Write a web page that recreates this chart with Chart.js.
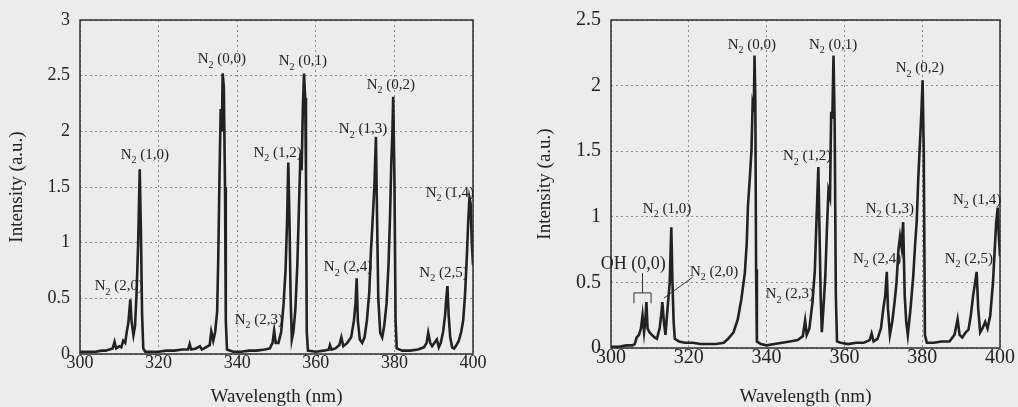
<!DOCTYPE html>
<html>
<head>
<meta charset="utf-8">
<script src="https://cdn.jsdelivr.net/npm/chart.js@4/dist/chart.umd.min.js"></script>
<style>
  html, body { margin:0; padding:0; background:#ececec; }
  #wrapEsq { position:absolute; left:0; top:0; width:500px; height:407px; }
  #wrapDir { position:absolute; left:510px; top:0; width:508px; height:407px; }
</style>
</head>
<body>
<div id="wrapEsq"><canvas id="graficoEsq"></canvas></div>
<div id="wrapDir"><canvas id="graficoDir"></canvas></div>
<script>
// espectro da esquerda
const esqComprimento = [
  300,302,304,305.5,306.5,307.5,308.3,308.8,309.2,310,310.5,311,311.5,311.9,312.3,312.8,313.1,313.6,314,314.4,
  314.8,315.2,315.5,315.8,316.1,316.6,318,320,322,324,326,327.5,327.9,328.3,329.5,330.5,331,332,333,333.4,
  333.9,334.4,334.9,335.2,335.5,335.8,336.1,336.3,336.6,336.9,337.1,337.4,339,341,343,345,347,348.3,349,349.4,
  349.8,350.5,351.2,351.8,352.3,352.7,353,353.3,353.6,353.9,354.3,354.8,355.3,355.7,356.1,356.4,356.7,357,357.3,357.5,
  357.7,358,360,362,363.3,363.6,364,365,366,366.5,367,368,369,369.7,370.1,370.4,370.7,371.2,371.8,372.4,
  373,373.6,374,374.5,374.9,375.3,375.6,375.9,376.4,376.9,377.4,378,378.5,378.9,379.2,379.5,379.7,380,380.3,380.6,
  382,384,386,387.5,388.2,388.6,389.1,389.6,390.2,390.8,391.3,391.8,392.4,392.9,393.2,393.5,393.8,394.2,394.7,395.2,
  395.8,396.4,397,397.5,398,398.4,398.8,399.1,399.4,399.7,400
];
const esqIntensidade = [
  0.02,0.02,0.02,0.03,0.03,0.04,0.05,0.11,0.05,0.07,0.06,0.12,0.1,0.2,0.28,0.49,0.3,0.17,0.25,0.55,
  1.0,1.66,1.1,0.35,0.05,0.02,0.02,0.02,0.03,0.03,0.04,0.04,0.09,0.04,0.05,0.07,0.04,0.06,0.08,0.2,
  0.12,0.2,0.38,0.9,1.6,2.2,2.0,2.52,2.4,1.5,0.3,0.04,0.02,0.02,0.03,0.03,0.04,0.05,0.1,0.21,
  0.1,0.1,0.2,0.45,0.75,1.2,1.72,1.2,0.5,0.13,0.2,0.4,0.8,1.3,1.8,1.65,2.2,2.52,2.3,1.6,
  0.2,0.03,0.02,0.03,0.04,0.08,0.04,0.05,0.08,0.15,0.07,0.1,0.15,0.3,0.45,0.68,0.3,0.13,0.1,0.15,
  0.3,0.55,0.9,1.23,1.5,1.95,1.2,0.5,0.19,0.15,0.25,0.45,0.8,1.25,1.7,2.0,2.31,1.6,0.3,0.05,
  0.03,0.03,0.04,0.06,0.1,0.19,0.1,0.07,0.1,0.13,0.06,0.1,0.2,0.35,0.5,0.61,0.35,0.15,0.06,0.05,
  0.08,0.12,0.2,0.3,0.55,0.85,1.2,1.4,1.35,1.0,0.8
];

// espectro da direita
const dirComprimento = [
  300,302,304,305.5,306.1,306.6,307.2,307.7,308.1,308.5,308.8,309.1,309.4,309.9,310.5,311.2,311.8,312.5,312.9,313.2,
  313.6,314,314.4,314.7,315.1,315.5,315.8,316.1,316.4,317.5,319,321,323,325,327,329,330.1,331.5,332.6,333.5,
  334.4,334.9,335.2,335.7,336.1,336.4,336.7,336.9,337.1,337.3,337.5,338.5,340,342,344,346,348,349.3,349.9,350.3,
  351,351.8,352.4,352.8,353.3,353.6,353.9,354.2,354.6,355.1,355.5,355.9,356.3,356.6,356.9,357.2,357.5,357.8,358.1,359,
  361,363,365,366.5,367,367.5,368.5,369.4,370,370.5,370.9,371.2,371.7,372.3,372.9,373.4,373.9,374.3,374.7,375.1,
  375.5,375.9,376.3,377,377.7,378.2,378.6,379,379.4,379.8,380.1,380.4,380.7,381.2,383,385,387,388.3,389.1,389.6,
  390.3,391.2,391.9,392.5,393.1,393.6,394,394.4,394.9,395.5,396.2,396.8,397.5,398.2,398.7,399,399.4,399.7,400
];
const dirIntensidade = [
  0.01,0.01,0.02,0.02,0.03,0.08,0.1,0.15,0.25,0.12,0.2,0.35,0.15,0.12,0.1,0.08,0.07,0.15,0.25,0.35,
  0.2,0.1,0.25,0.36,0.5,0.92,0.5,0.2,0.07,0.05,0.04,0.04,0.03,0.03,0.03,0.04,0.07,0.12,0.22,0.37,
  0.57,0.8,1.08,1.3,1.5,1.85,1.8,2.23,1.9,0.6,0.05,0.03,0.02,0.03,0.04,0.05,0.06,0.09,0.21,0.1,
  0.15,0.35,0.59,0.95,1.38,0.9,0.4,0.12,0.3,0.55,0.9,1.2,1.15,1.8,1.75,2.23,1.7,0.4,0.05,0.04,
  0.03,0.04,0.04,0.06,0.11,0.05,0.07,0.15,0.3,0.4,0.58,0.3,0.1,0.2,0.35,0.5,0.75,0.85,0.77,0.96,
  0.4,0.2,0.1,0.3,0.55,0.8,0.97,1.3,1.55,1.8,2.04,1.5,0.1,0.04,0.04,0.05,0.05,0.1,0.22,0.1,
  0.08,0.12,0.14,0.25,0.4,0.5,0.58,0.3,0.12,0.15,0.2,0.15,0.25,0.5,0.78,0.95,1.07,0.85,0.7
];

// rotulos das bandas
const esqRotulos = ["N_2 (0,0)","N_2 (0,1)","N_2 (0,2)","N_2 (1,3)","N_2 (1,2)","N_2 (1,0)",
  "N_2 (1,4)","N_2 (2,0)","N_2 (2,3)","N_2 (2,4)","N_2 (2,5)"];
const esqRotuloX = [336.1,356.7,379.1,372.0,350.3,316.5,394.1,309.9,345.5,368.2,392.5];
const esqRotuloY = [2.66,2.64,2.43,2.03,1.82,1.80,1.46,0.62,0.32,0.79,0.74];

const dirRotulos = ["N_2 (0,0)","N_2 (0,1)","N_2 (0,2)","N_2 (1,2)","N_2 (1,0)","N_2 (1,3)",
  "N_2 (1,4)","OH (0,0)","N_2 (2,0)","N_2 (2,3)","N_2 (2,4)","N_2 (2,5)"];
const dirRotuloX = [336.2,357.1,379.4,350.4,314.4,371.7,394.1,305.7,326.5,346.0,368.4,392.0];
const dirRotuloY = [2.32,2.32,2.14,1.47,1.07,1.07,1.14,0.65,0.59,0.42,0.69,0.69];

// colchete OH e linha guia do N2 (2,0), em unidades dos eixos
const colcheteX = [305.9,308.1,310.3];
const colcheteY = [0.34,0.42,0.57];
const guiaX = [313.6,321];
const guiaY = [0.38,0.54];

const corTexto = "#222222";
const fonte = "'Liberation Serif', 'Times New Roman', serif";

function escreveRotulo(ctx, texto, cx, cy, tam){
    const partes = texto.split("_");
    let base, sub = "", resto = "";
    if(partes.length > 1){
        base = partes[0];
        sub = partes[1].charAt(0);
        resto = partes[1].slice(1);
    } else {
        base = texto;
    }
    ctx.font = tam + "px " + fonte;
    const wBase = ctx.measureText(base).width;
    const wResto = ctx.measureText(resto).width;
    ctx.font = Math.round(tam*0.66) + "px " + fonte;
    const wSub = ctx.measureText(sub).width;
    let x = cx - (wBase + wSub + wResto)/2;
    const y = cy + tam*0.35;
    ctx.textAlign = "left";
    ctx.textBaseline = "alphabetic";
    ctx.font = tam + "px " + fonte;
    ctx.fillText(base, x, y);
    x += wBase;
    ctx.font = Math.round(tam*0.66) + "px " + fonte;
    ctx.fillText(sub, x, y + tam*0.3);
    x += wSub;
    ctx.font = tam + "px " + fonte;
    ctx.fillText(resto, x, y);
}

const rotulosPlugin = {
    id: "rotulos",
    afterDatasetsDraw(chart, args, opts){
        const ctx = chart.ctx;
        const a = chart.chartArea;
        const sx = chart.scales.x;
        const sy = chart.scales.y;
        ctx.save();
        // moldura
        ctx.strokeStyle = "#2e2e2e";
        ctx.lineWidth = 1.5;
        ctx.strokeRect(a.left, a.top, a.right - a.left, a.bottom - a.top);
        ctx.fillStyle = corTexto;
        for(let i = 0; i < opts.textos.length; i++){
            const t = opts.textos[i];
            const tam = t.startsWith("OH") ? 18 : 15;
            escreveRotulo(ctx, t, sx.getPixelForValue(opts.xs[i]), sy.getPixelForValue(opts.ys[i]), tam);
        }
        if(opts.colchete){
            ctx.strokeStyle = "#333";
            ctx.lineWidth = 1;
            const x0 = sx.getPixelForValue(colcheteX[0]);
            const xm = sx.getPixelForValue(colcheteX[1]);
            const x1 = sx.getPixelForValue(colcheteX[2]);
            const yb = sy.getPixelForValue(colcheteY[0]);
            const yh = sy.getPixelForValue(colcheteY[1]);
            const yt = sy.getPixelForValue(colcheteY[2]);
            ctx.beginPath();
            ctx.moveTo(x0, yb); ctx.lineTo(x0, yh); ctx.lineTo(x1, yh); ctx.lineTo(x1, yb);
            ctx.moveTo(xm, yh); ctx.lineTo(xm, yt);
            ctx.moveTo(sx.getPixelForValue(guiaX[0]), sy.getPixelForValue(guiaY[0]));
            ctx.lineTo(sx.getPixelForValue(guiaX[1]), sy.getPixelForValue(guiaY[1]));
            ctx.stroke();
        }
        ctx.restore();
    }
};

function montaGrafico(id, comp, inten, yMax, tamTick, largY, altX, pad, padTitulo, rot, colchete){
    const pontos = comp.map((c, i) => ({x: c, y: inten[i]}));
    return new Chart(document.getElementById(id), {
        type: "line",
        data: {
            datasets: [{
                data: pontos,
                borderColor: "#222222",
                borderWidth: 2.6,
                pointRadius: 0,
                tension: 0
            }]
        },
        options: {
            responsive: true,
            maintainAspectRatio: false,
            animation: false,
            layout: { padding: pad },
            plugins: {
                legend: { display: false },
                tooltip: { enabled: false },
                rotulos: { textos: rot.textos, xs: rot.xs, ys: rot.ys, colchete: colchete }
            },
            scales: {
                x: {
                    type: "linear",
                    min: 300,
                    max: 400,
                    afterFit(axis){ axis.height = altX; },
                    ticks: {
                        stepSize: 20,
                        padding: 0,
                        color: corTexto,
                        font: { family: fonte, size: tamTick, lineHeight: 1 },
                        maxRotation: 0,
                        callback: v => String(v)
                    },
                    grid: { color: "#8c8c8c", lineWidth: 1, drawTicks: false },
                    border: { display: false, dash: [2, 3] },
                    title: {
                        display: true,
                        text: "Wavelength (nm)",
                        color: corTexto,
                        padding: 0,
                        font: { family: fonte, size: 19, lineHeight: 1 }
                    }
                },
                y: {
                    min: 0,
                    max: yMax,
                    afterFit(axis){ axis.width = largY; },
                    ticks: {
                        stepSize: 0.5,
                        padding: 10,
                        color: corTexto,
                        font: { family: fonte, size: tamTick, lineHeight: 1 },
                        callback: v => String(v)
                    },
                    grid: { color: "#8c8c8c", lineWidth: 1, drawTicks: false },
                    border: { display: false, dash: [2, 3] },
                    title: {
                        display: true,
                        text: "Intensity (a.u.)",
                        color: corTexto,
                        padding: { top: padTitulo, bottom: 0 },
                        font: { family: fonte, size: 19, lineHeight: 1 }
                    }
                }
            }
        },
        plugins: [rotulosPlugin]
    });
}

montaGrafico("graficoEsq", esqComprimento, esqIntensidade, 3, 18, 80, 53,
    { top: 20, right: 27, left: 0, bottom: 0 }, 7.5,
    { textos: esqRotulos, xs: esqRotuloX, ys: esqRotuloY }, false);

montaGrafico("graficoDir", dirComprimento, dirIntensidade, 2.5, 20, 101, 59,
    { top: 19, right: 18, left: 0, bottom: 0 }, 25.5,
    { textos: dirRotulos, xs: dirRotuloX, ys: dirRotuloY }, true);
</script>
</body>
</html>
